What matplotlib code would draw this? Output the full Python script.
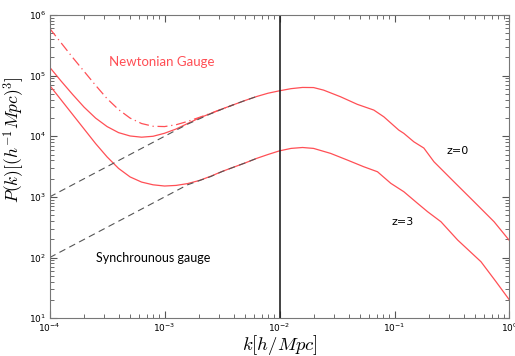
import numpy as np
import matplotlib.pyplot as plt

plt.rcParams['mathtext.fontset'] = 'cm'

# log10 values of k [h/Mpc] and P(k) for each curve
# Newtonian gauge, z=0
logk_n0 = [-4.0, -3.9, -3.8, -3.7, -3.6, -3.5, -3.4, -3.3, -3.2, -3.1, -3.0,
           -2.9, -2.8, -2.7, -2.6, -2.5, -2.4, -2.3, -2.2, -2.1, -2.0, -1.9,
           -1.8, -1.704, -1.617, -1.469, -1.323, -1.18, -1.093, -0.963, -0.919,
           -0.832, -0.745, -0.657, -0.483, -0.308, -0.134, 0.0]
logp_n0 = [5.14, 4.91, 4.69, 4.48, 4.30, 4.16, 4.06, 4.005, 3.985, 4.0, 4.05,
           4.12, 4.21, 4.30, 4.375, 4.45, 4.52, 4.59, 4.655, 4.71, 4.75, 4.785,
           4.805, 4.803, 4.761, 4.651, 4.526, 4.432, 4.321, 4.102, 4.048,
           3.909, 3.806, 3.58, 3.25, 2.921, 2.591, 2.28]

# Newtonian gauge, z=3
logk_n3 = [-4.0, -3.9, -3.8, -3.7, -3.6, -3.5, -3.4, -3.3, -3.2, -3.1, -3.0,
           -2.9, -2.8, -2.7, -2.6, -2.5, -2.4, -2.3, -2.2, -2.1, -2.0, -1.9,
           -1.8, -1.704, -1.556, -1.41, -1.268, -1.148, -1.032, -0.919, -0.8,
           -0.712, -0.596, -0.451, -0.248, -0.12, 0.0]
logp_n3 = [4.84, 4.60, 4.36, 4.12, 3.88, 3.66, 3.47, 3.33, 3.245, 3.20, 3.18,
           3.19, 3.22, 3.27, 3.34, 3.42, 3.49, 3.56, 3.635, 3.70, 3.76, 3.80,
           3.815, 3.80, 3.718, 3.608, 3.498, 3.415, 3.224, 3.086, 2.895,
           2.756, 2.591, 2.29, 1.932, 1.61, 1.30]

# Newtonian gauge, z=0, dash-dot variant
logk_dd = [-4.0, -3.9, -3.8, -3.7, -3.6, -3.5, -3.4, -3.3, -3.2, -3.1, -3.0,
           -2.9, -2.8, -2.7, -2.6, -2.5, -2.4]
logp_dd = [5.78, 5.54, 5.30, 5.07, 4.84, 4.62, 4.44, 4.30, 4.21, 4.165, 4.16,
           4.19, 4.245, 4.31, 4.377, 4.45, 4.52]

# synchronous gauge
logk_s = [-4.0, -3.5, -3.0, -2.8, -2.6, -2.5, -2.4, -2.3, -2.2]
logp_s0 = [3.0, 3.5, 4.0, 4.2, 4.37, 4.447, 4.52, 4.59, 4.655]
logp_s3 = [2.0, 2.5, 3.0, 3.2, 3.335, 3.418, 3.49, 3.56, 3.635]

red = '#ff4f55'

fig = plt.figure(figsize=(5.15, 3.56), dpi=100)
ax = fig.add_axes([0.0963, 0.106, 0.893, 0.852])

ax.plot(10**np.array(logk_n0), 10**np.array(logp_n0), color=red, lw=0.9)
ax.plot(10**np.array(logk_n3), 10**np.array(logp_n3), color=red, lw=0.9)
ax.plot(10**np.array(logk_dd), 10**np.array(logp_dd), color=red, lw=0.9,
        dashes=(8, 3, 1, 3))
ax.plot(10**np.array(logk_s), 10**np.array(logp_s0), color='#555555', lw=0.8,
        dashes=(6, 4))
ax.plot(10**np.array(logk_s), 10**np.array(logp_s3), color='#555555', lw=0.8,
        dashes=(6, 4))
ax.axvline(1e-2, color='#222222', lw=1.2)

ax.set_xscale('log')
ax.set_yscale('log')
ax.set_xlim(1e-4, 1)
ax.set_ylim(1e1, 1e6)

ax.tick_params(which='both', direction='in', top=True, right=True,
               labelsize=6.5, pad=2.5, color='#555555')
ax.tick_params(which='major', length=5)
ax.tick_params(which='minor', length=3)
for s in ax.spines.values():
    s.set_color('#777777')

ax.set_xlabel(r'$k[h/Mpc]$', fontsize=13.5)
ax.xaxis.set_label_coords(0.5, -0.049)
ax.set_ylabel(r'$P(k)[(h^{-1}Mpc)^3]$', fontsize=12.5)
ax.yaxis.set_label_coords(-0.052, 0.59)

ax.text(9.4e-4, 10**5.22, 'Newtonian Gauge', color=red, fontsize=9.5,
        family='Lato', ha='center', va='center')
ax.text(8.0e-4, 10**1.99, 'Synchrounous gauge', color='black', fontsize=9,
        family='Lato', ha='center', va='center')
ax.text(0.356, 10**3.76, 'z=0', fontsize=8, ha='center', va='center')
ax.text(0.118, 10**2.59, 'z=3', fontsize=8, ha='center', va='center')

fig.savefig('out.png', dpi=100)
